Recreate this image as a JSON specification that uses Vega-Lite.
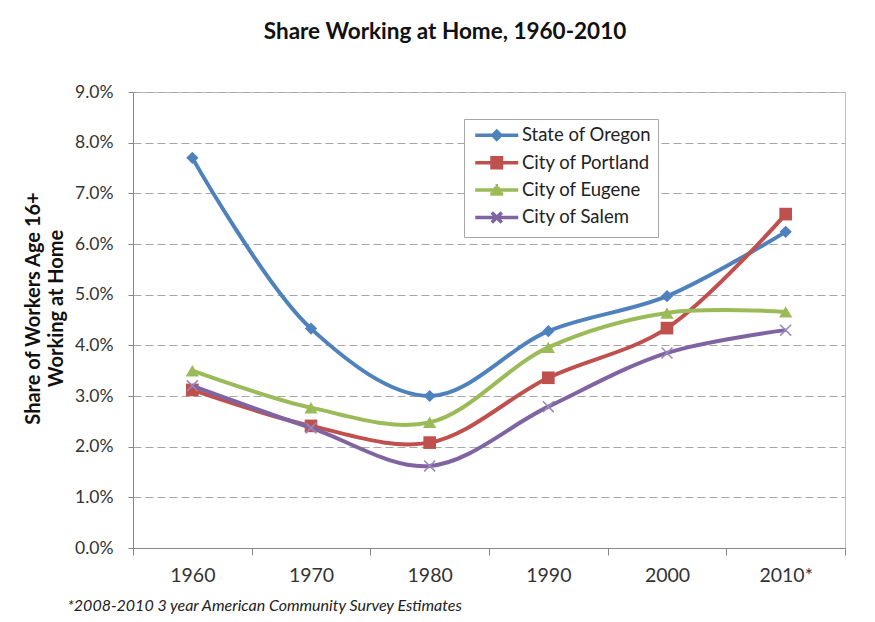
{
  "$schema": "https://vega.github.io/schema/vega-lite/v6.json",
  "width": 712,
  "height": 456,
  "autosize": {"type": "none"},
  "padding": {"left": 133, "top": 92, "right": 30, "bottom": 74},
  "background": "white",
  "config": {
    "view": {"stroke": "#BFBFBF"},
    "axis": {"labelFont": "Lato", "titleFont": "Lato"},
    "legend": {"labelFont": "Lato"}
  },
  "title": {
    "text": "Share Working at Home, 1960-2010",
    "font": "Lato",
    "fontSize": 22.5,
    "fontWeight": "bold",
    "color": "#111111",
    "anchor": "middle",
    "dx": -44,
    "offset": 40
  },
  "data": {
    "values": [
      {"series": "State of Oregon", "year": "1960", "value": 0.077},
      {"series": "State of Oregon", "year": "1970", "value": 0.0433},
      {"series": "State of Oregon", "year": "1980", "value": 0.0300},
      {"series": "State of Oregon", "year": "1990", "value": 0.0428},
      {"series": "State of Oregon", "year": "2000", "value": 0.0497},
      {"series": "State of Oregon", "year": "2010*", "value": 0.0624},
      {"series": "City of Portland", "year": "1960", "value": 0.0312},
      {"series": "City of Portland", "year": "1970", "value": 0.0241},
      {"series": "City of Portland", "year": "1980", "value": 0.0208},
      {"series": "City of Portland", "year": "1990", "value": 0.0336},
      {"series": "City of Portland", "year": "2000", "value": 0.0434},
      {"series": "City of Portland", "year": "2010*", "value": 0.0659},
      {"series": "City of Eugene", "year": "1960", "value": 0.0350},
      {"series": "City of Eugene", "year": "1970", "value": 0.0277},
      {"series": "City of Eugene", "year": "1980", "value": 0.0248},
      {"series": "City of Eugene", "year": "1990", "value": 0.0396},
      {"series": "City of Eugene", "year": "2000", "value": 0.0464},
      {"series": "City of Eugene", "year": "2010*", "value": 0.0466},
      {"series": "City of Salem", "year": "1960", "value": 0.0320},
      {"series": "City of Salem", "year": "1970", "value": 0.0237},
      {"series": "City of Salem", "year": "1980", "value": 0.0162},
      {"series": "City of Salem", "year": "1990", "value": 0.0279},
      {"series": "City of Salem", "year": "2000", "value": 0.0385},
      {"series": "City of Salem", "year": "2010*", "value": 0.0430}
    ]
  },
  "encoding": {
    "x": {
      "field": "year",
      "type": "nominal",
      "sort": null,
      "scale": {"type": "band", "paddingInner": 0, "paddingOuter": 0, "domain": ["1960", "1970", "1980", "1990", "2000", "2010*"]},
      "axis": {
        "tickBand": "extent",
        "tickSize": 7,
        "tickColor": "#868686",
        "domainColor": "#868686",
        "grid": false,
        "labelAngle": 0,
        "labelFontSize": 19.5,
        "labelColor": "#333333",
        "labelPadding": 11,
        "title": "*2008-2010 3 year American Community Survey Estimates",
        "titleFontStyle": "italic",
        "titleFontWeight": "normal",
        "titleFontSize": 16,
        "titleColor": "#222222",
        "titleX": -66,
        "titleY": 62,
        "titleAlign": "left",
        "titleAnchor": "start",
        "titleBaseline": "alphabetic"
      }
    },
    "y": {
      "field": "value",
      "type": "quantitative",
      "scale": {"domain": [0, 0.09]},
      "axis": {
        "values": [0, 0.01, 0.02, 0.03, 0.04, 0.05, 0.06, 0.07, 0.08, 0.09],
        "format": ".1%",
        "grid": true,
        "gridDash": [8, 4],
        "gridColor": "#A6A6A6",
        "domainColor": "#868686",
        "tickColor": "#868686",
        "tickSize": 5,
        "labelFontSize": 17.5,
        "labelColor": "#333333",
        "labelPadding": 15,
        "title": ["Share of Workers Age 16+", "Working at Home"],
        "titleFontSize": 20,
        "titleFontWeight": "bold",
        "titleColor": "#111111",
        "titleX": -100,
        "titleY": 216,
        "titleAngle": -90,
        "titleAlign": "center",
        "titleBaseline": "middle",
        "titleLineHeight": 23
      }
    }
  },
  "layer": [
    {
      "transform": [{"filter": "datum.series === 'State of Oregon'"}],
      "layer": [
        {"mark": {"type": "line", "interpolate": "catmull-rom", "strokeWidth": 4, "color": "#4F81BD"}},
        {"mark": {"type": "point", "shape": "diamond", "filled": true, "size": 150, "opacity": 1, "color": "#4F81BD"}}
      ]
    },
    {
      "transform": [{"filter": "datum.series === 'City of Portland'"}],
      "layer": [
        {"mark": {"type": "line", "interpolate": "catmull-rom", "strokeWidth": 4, "color": "#C0504D"}},
        {"mark": {"type": "point", "shape": "square", "filled": true, "size": 160, "opacity": 1, "color": "#C0504D"}}
      ]
    },
    {
      "transform": [{"filter": "datum.series === 'City of Eugene'"}],
      "layer": [
        {"mark": {"type": "line", "interpolate": "catmull-rom", "strokeWidth": 4, "color": "#9BBB59"}},
        {"mark": {"type": "point", "shape": "triangle-up", "filled": true, "size": 175, "opacity": 1, "color": "#9BBB59"}}
      ]
    },
    {
      "transform": [{"filter": "datum.series === 'City of Salem'"}],
      "layer": [
        {"mark": {"type": "line", "interpolate": "catmull-rom", "strokeWidth": 4, "color": "#8064A2"}},
        {"mark": {"type": "point", "shape": "M-1,-1L1,1M-1,1L1,-1", "filled": false, "size": 120, "strokeWidth": 1.5, "opacity": 1, "color": "#9A86BA"}}
      ]
    },
    {
      "transform": [{"filter": "false"}],
      "mark": {"type": "point", "filled": false, "size": 100, "strokeWidth": 3.5, "opacity": 1},
      "encoding": {
        "color": {
          "field": "series",
          "type": "nominal",
          "scale": {
            "domain": ["State of Oregon", "City of Portland", "City of Eugene", "City of Salem"],
            "range": ["#4F81BD", "#C0504D", "#9BBB59", "#8064A2"]
          },
          "legend": {
            "title": null,
            "orient": "none",
            "legendX": 331,
            "legendY": 27,
            "padding": 7,
            "strokeColor": "#A6A6A6",
            "fillColor": "white",
            "labelFontSize": 18.5,
            "labelColor": "#222222",
            "labelLimit": 300,
            "symbolOffset": 16.5,
            "labelOffset": 16,
            "rowPadding": 3.4,
            "symbolStrokeWidth": 3.5,
            "symbolSize": 100
          }
        },
        "shape": {
          "field": "series",
          "type": "nominal",
          "scale": {
            "domain": ["State of Oregon", "City of Portland", "City of Eugene", "City of Salem"],
            "range": [
              "M-4.3,0H4.3M0,-0.8L0.8,0L0,0.8L-0.8,0ZM0,-0.2L0.2,0L0,0.2L-0.2,0Z",
              "M-4.3,0H4.3M-1.3,-1H1.3M-1.3,-0.33H1.3M-1.3,0.33H1.3M-1.3,1H1.3",
              "M-4.3,0H4.3M-1.3,0.8H1.3M-0.95,0.25H0.95M-0.6,-0.3H0.6M-0.25,-0.85H0.25",
              "M-4.3,0H4.3M-1,-1L1,1M-1,1L1,-1"
            ]
          }
        }
      }
    }
  ]
}
